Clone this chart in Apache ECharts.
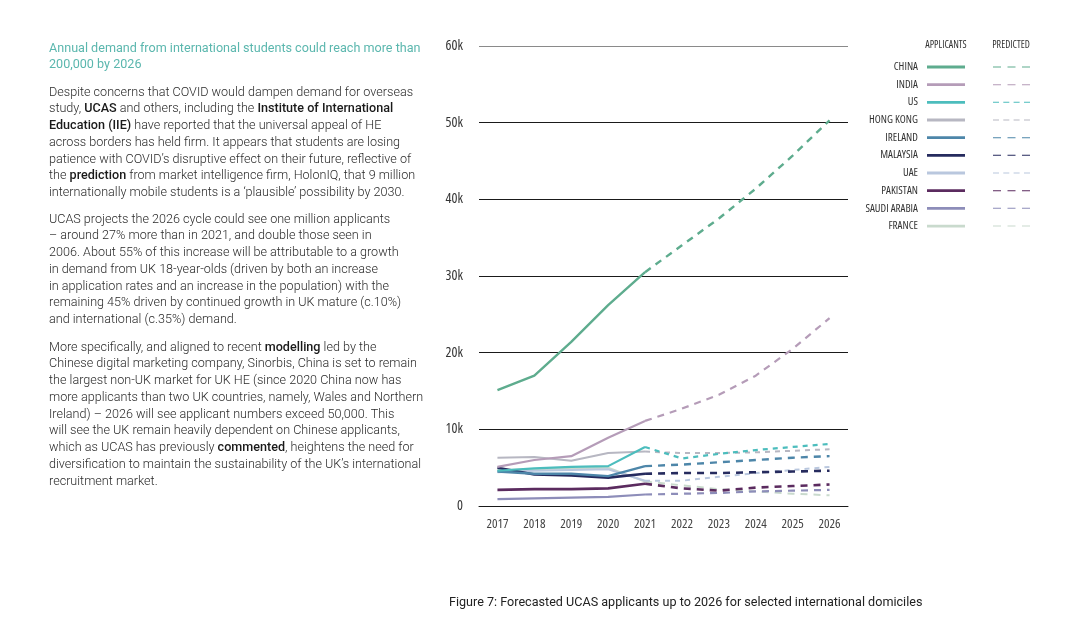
<!DOCTYPE html>
<html>
<head>
<meta charset="utf-8">
<script src="https://cdn.jsdelivr.net/npm/echarts@6/dist/echarts.min.js"></script>
<style>
  html, body { margin: 0; padding: 0; background: #fff; }
  #chart { position: absolute; left: 0; top: 0; width: 1073px; height: 617px; }
  .txt { position: absolute; left: 49px; font-family: Roboto, sans-serif; font-size: 12.6px; line-height: 16.75px;
         color: #2a2a2a; font-weight: 300; white-space: nowrap; }
  .txt b { font-weight: 500; color: #1a1a1a; }
  .ttl { color: #5bb7ae; font-weight: 400; }
  .cap { position: absolute; left: 449px; top: 594px; font-family: Roboto, sans-serif; font-size: 12.6px;
         color: #222; white-space: nowrap; font-weight: 400; }
</style>
</head>
<body>
<div id="chart"></div>
<div class="txt ttl" style="top:39.6px">Annual demand from international students could reach more than<br>200,000 by 2026</div>
<div class="txt" style="top:83.6px">Despite concerns that COVID would dampen demand for overseas<br>study, <b>UCAS</b> and others, including the <b>Institute of International</b><br><b>Education (IIE)</b> have reported that the universal appeal of HE<br>across borders has held firm. It appears that students are losing<br>patience with COVID’s disruptive effect on their future, reflective of<br>the <b>prediction</b> from market intelligence firm, HolonIQ, that 9 million<br>internationally mobile students is a ‘plausible’ possibility by 2030.</div>
<div class="txt" style="top:210.6px">UCAS projects the 2026 cycle could see one million applicants<br>– around 27% more than in 2021, and double those seen in<br>2006. About 55% of this increase will be attributable to a growth<br>in demand from UK 18-year-olds (driven by both an increase<br>in application rates and an increase in the population) with the<br>remaining 45% driven by continued growth in UK mature (c.10%)<br>and international (c.35%) demand.</div>
<div class="txt" style="top:338.6px">More specifically, and aligned to recent <b>modelling</b> led by the<br>Chinese digital marketing company, Sinorbis, China is set to remain<br>the largest non-UK market for UK HE (since 2020 China now has<br>more applicants than two UK countries, namely, Wales and Northern<br>Ireland) – 2026 will see applicant numbers exceed 50,000. This<br>will see the UK remain heavily dependent on Chinese applicants,<br>which as UCAS has previously <b>commented</b>, heightens the need for<br>diversification to maintain the sustainability of the UK’s international<br>recruitment market.</div>
<div class="cap">Figure 7: Forecasted UCAS applicants up to 2026 for selected international domiciles</div>
<script>
// ---- data ----
const years = ['2017', '2018', '2019', '2020', '2021', '2022', '2023', '2024', '2025', '2026'];
const countries = ['CHINA', 'INDIA', 'US', 'HONG KONG', 'IRELAND', 'MALAYSIA', 'UAE', 'PAKISTAN', 'SAUDI ARABIA', 'FRANCE'];
const yTicks = [0, 10000, 20000, 30000, 40000, 50000, 60000];

// applicants 2017-2021
const chinaApp    = [15100, 17000, 21400, 26200, 30500];
const indiaApp    = [5100, 6000, 6500, 8900, 11100];
const usApp       = [4600, 4900, 5100, 5200, 7700];
const hongKongApp = [6300, 6400, 5900, 6900, 7100];
const irelandApp  = [4500, 4200, 4200, 3900, 5200];
const malaysiaApp = [5000, 4100, 4000, 3700, 4200];
const uaeApp      = [4400, 4600, 4700, 4800, 3300];
const pakistanApp = [2100, 2200, 2200, 2300, 2900];
const saudiApp    = [900, 1000, 1100, 1200, 1500];
const franceApp   = [4700, 4800, 4900, 5000, 3200];

// predicted 2021-2026
const chinaPred    = [30500, 34000, 37500, 41400, 45700, 50300];
const indiaPred    = [11100, 12700, 14500, 17000, 20500, 24500];
const usPred       = [7700, 6200, 6800, 7300, 7700, 8100];
const hongKongPred = [7100, 6900, 6900, 7000, 7200, 7400];
const irelandPred  = [5200, 5400, 5700, 6000, 6300, 6500];
const malaysiaPred = [4200, 4300, 4300, 4400, 4500, 4600];
const uaePred      = [3300, 3300, 3800, 4300, 4700, 5100];
const pakistanPred = [2900, 2300, 2000, 2400, 2600, 2800];
const saudiPred    = [1500, 1600, 1700, 1900, 2000, 2100];
const francePred   = [3200, 2700, 2200, 1900, 1600, 1400];

const appSets  = [chinaApp, indiaApp, usApp, hongKongApp, irelandApp, malaysiaApp, uaeApp, pakistanApp, saudiApp, franceApp];
const predSets = [chinaPred, indiaPred, usPred, hongKongPred, irelandPred, malaysiaPred, uaePred, pakistanPred, saudiPred, francePred];

// ---- styles ----
const colors = ['#5eac8e', '#b59cb8', '#4cbdbd', '#b7b7c2', '#4d86a9', '#262b5e', '#b9c7de', '#5b2b5f', '#8d8db9', '#c9dacd'];
const widths = [2.4, 2.2, 2.2, 2.0, 2.4, 2.6, 2.0, 2.6, 2.2, 2.0];
const shortDash = [false, false, true, true, false, false, true, false, false, false];

// pick a narrow font that is actually installed
function pickFont() {
  const ctx = document.createElement('canvas').getContext('2d');
  const test = 'HONG KONG SAUDI ARABIA 2017 60k';
  const cands = [
    ['', 'Liberation Sans Narrow'], ['', 'DejaVu Sans Condensed'], ['condensed', 'Open Sans'],
    ['condensed', 'Roboto'], ['condensed', 'Noto Sans'], ['condensed', 'DejaVu Sans']
  ];
  ctx.font = '20px Roboto';
  const ref = ctx.measureText(test).width;
  let best = ['', 'Roboto'], bestR = 1;
  for (const [st, fam] of cands) {
    ctx.font = '20px monospace'; const m1 = ctx.measureText(test).width;
    ctx.font = (st ? st + ' ' : '') + '20px "' + fam + '", monospace'; const m2 = ctx.measureText(test).width;
    const exists = Math.abs(m1 - m2) > 0.5;
    const r = m2 / ref;
    if (exists && r < bestR - 0.02) { best = [st, fam]; bestR = r; }
  }
  return best;
}
const [fontStretch, fontFam] = pickFont();
const fontStyleVal = fontStretch || 'normal';

const series = [];
const predNames = countries.map(c => c + ' predicted');
countries.forEach((c, i) => {
  const app = appSets[i].concat(new Array(years.length - appSets[i].length).fill(null));
  const pred = new Array(years.length - predSets[i].length).fill(null).concat(predSets[i]);
  series.push({
    name: c, type: 'line', data: app, showSymbol: false, symbol: 'none', z: 20 - i,
    lineStyle: { color: colors[i], width: widths[i] }, itemStyle: { color: colors[i] },
    emphasis: { disabled: true }, silent: true
  });
  series.push({
    name: predNames[i], type: 'line', data: pred, showSymbol: false, symbol: 'none', z: 20 - i,
    lineStyle: { color: colors[i], width: widths[i], type: shortDash[i] ? [5, 5] : [7, 6] }, itemStyle: { color: colors[i] },
    emphasis: { disabled: true }, silent: true
  });
});

const dash3 = 'path://M0,0h8v1h-8z M14.5,0h8v1h-8z M29,0h8v1h-8z';
const dash4 = 'path://M0,0h6v1h-6z M10.3,0h6v1h-6z M20.6,0h6v1h-6z M31,0h6v1h-6z';
const lblStyle = { fontFamily: fontFam, fontStyle: fontStyleVal, fontSize: 11, color: '#333', lineHeight: 12 };

const chart = echarts.init(document.getElementById('chart'), null, { renderer: 'canvas' });
chart.setOption({
  animation: false,
  backgroundColor: 'transparent',
  grid: { left: 479, right: 225, top: 46, bottom: 111, containLabel: false },
  xAxis: {
    type: 'category', data: years, boundaryGap: true,
    axisLine: { show: true, lineStyle: { color: '#1a1a1a', width: 1 } },
    axisTick: { show: false },
    axisLabel: { interval: 0, color: '#444', fontFamily: fontFam, fontStyle: fontStyleVal, fontSize: 13, margin: 12 }
  },
  yAxis: {
    type: 'value', min: yTicks[0], max: yTicks[yTicks.length - 1], interval: yTicks[1] - yTicks[0],
    axisLine: { show: false }, axisTick: { show: false },
    splitLine: { show: true, lineStyle: { color: ['#1a1a1a', '#1a1a1a', '#1a1a1a', '#1a1a1a', '#1a1a1a', '#1a1a1a', '#8a8a8a'], width: 1 } },
    axisLabel: { color: '#333', fontFamily: fontFam, fontStyle: fontStyleVal, fontSize: 14, margin: 16,
      formatter: v => v === 0 ? '0' : (v / 1000) + 'k' }
  },
  legend: [
    {
      data: countries.map(c => ({ name: c, icon: 'rect' })),
      orient: 'vertical', align: 'right', right: 108, top: 61, padding: 0,
      itemWidth: 38, itemHeight: 2.8, itemGap: 5.67, selectedMode: false,
      formatter: n => n + '  ',
      textStyle: lblStyle
    },
    {
      data: predNames.map((n, i) => ({ name: n, icon: shortDash[i] ? dash4 : dash3 })),
      orient: 'vertical', align: 'left', left: 993, top: 61, padding: 0,
      itemWidth: 37, itemHeight: 2.8, itemGap: 5.67, selectedMode: false,
      formatter: () => ' ',
      textStyle: lblStyle
    }
  ],
  graphic: [
    { type: 'text', x: 946, y: 45, style: { text: 'APPLICANTS', fontFamily: fontFam, fontStyle: fontStyleVal, fontSize: 10, fill: '#333', align: 'center', verticalAlign: 'middle' } },
    { type: 'text', x: 1011, y: 45, style: { text: 'PREDICTED', fontFamily: fontFam, fontStyle: fontStyleVal, fontSize: 10, fill: '#333', align: 'center', verticalAlign: 'middle' } }
  ],
  series: series
});
</script>
</body>
</html>
